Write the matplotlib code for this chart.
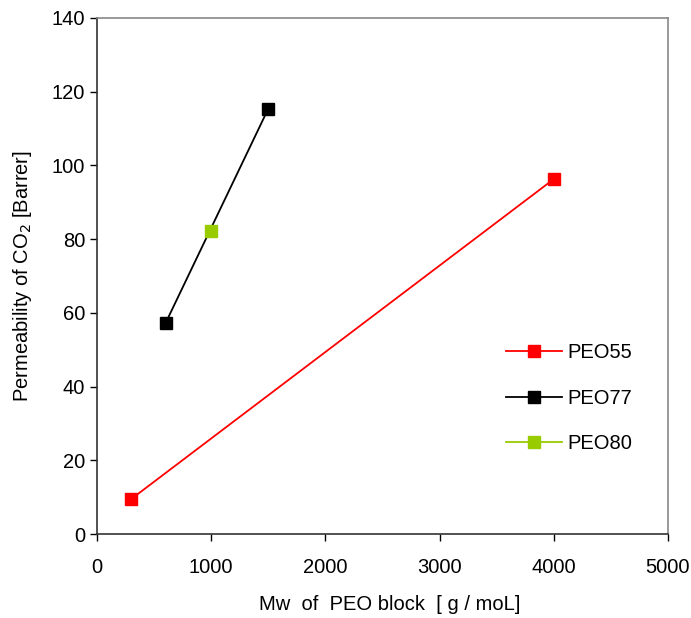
import matplotlib
matplotlib.use("Agg")
import matplotlib.pyplot as plt

plt.rcParams['font.family'] = ['Liberation Sans', 'DejaVu Sans']

peo55_x = [300, 4000]
peo55_y = [9.5, 96.3]
peo77_x = [600, 1500]
peo77_y = [57.2, 115.4]
peo80_x = [1000]
peo80_y = [82.2]

x_ticks = [0, 1000, 2000, 3000, 4000, 5000]
y_ticks = [0, 20, 40, 60, 80, 100, 120, 140]

FS = 14.5

fig = plt.figure(figsize=(6.91, 6.18), dpi=100)
ax = fig.add_axes([0.1404, 0.1359, 0.8263, 0.835])

ax.plot(peo55_x, peo55_y, color='#FF0000', lw=1.3, marker='s', ms=8, label='PEO55')
ax.plot(peo77_x, peo77_y, color='#000000', lw=1.3, marker='s', ms=8, label='PEO77')
ax.plot(peo80_x, peo80_y, color='#99CC00', lw=1.3, marker='s', ms=8, label='PEO80', linestyle='-')

ax.set_xlim(0, 5000)
ax.set_ylim(0, 140)
ax.set_xticks(x_ticks)
ax.set_yticks(y_ticks)
ax.tick_params(axis='both', direction='out', length=5, width=1, labelsize=FS, colors='#000000')
ax.tick_params(axis='x', pad=12)
ax.tick_params(axis='y', pad=3.5)

for s in ['left', 'bottom']:
    ax.spines[s].set_color('#333333')
    ax.spines[s].set_linewidth(1.2)
for s in ['top', 'right']:
    ax.spines[s].set_color('#888888')
    ax.spines[s].set_linewidth(1.2)

ax.set_xlabel('Mw  of  PEO block  [ g / moL]', fontsize=FS, labelpad=14)
ax.xaxis.set_label_coords(0.513, -0.118)
ax.set_ylabel('Permeability of CO$_2$ [Barrer]', fontsize=FS, labelpad=13)

leg = ax.legend(loc='upper left', bbox_to_anchor=(0.702, 0.386), frameon=False, fontsize=FS,
                handlelength=2.8, handletextpad=0.25, labelspacing=1.33, borderaxespad=0)

fig.savefig('out.png', dpi=100)
